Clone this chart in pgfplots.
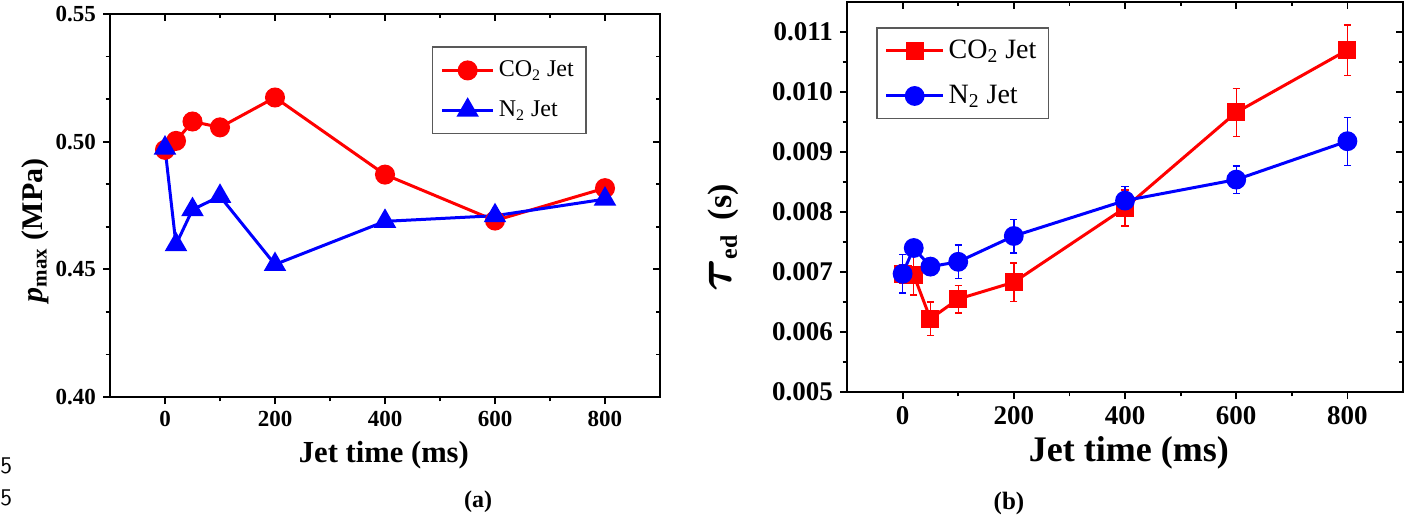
\documentclass[border=0pt]{standalone}
\usepackage{pgfplots}
\pgfplotsset{compat=1.18}
\usepackage{fontspec}
\setmainfont{Liberation Serif}
\usepackage{amsmath}
\usepackage{bm}
\definecolor{cred}{RGB}{255,0,0}
\definecolor{cblue}{RGB}{0,0,255}
\pgfplotsset{
  common/.style={
    scale only axis,
    anchor=south west,
    xmin=-100, xmax=900,
    xtick={0,200,400,600,800},
    minor x tick num=1,
    tick align=outside,
    xtick pos=left, ytick pos=left,
    axis line style={line width=1pt},
    every tick/.style={black, line width=0.9pt},
    major tick length=3.5pt,
    minor tick length=2.2pt,
    /pgf/number format/assume math mode=true,
    legend cell align=left,
    clip=false,
  },
  overlay/.style={
    scale only axis,
    anchor=south west,
    xmin=-100, xmax=900,
    xtick={0,200,400,600,800},
    minor x tick num=1,
    tick align=inside,
    xtick pos=right, ytick pos=right,
    axis line style={draw=none},
    every tick/.style={black, line width=0.9pt},
    major tick length=3.5pt,
    minor tick length=2.2pt,
    xticklabels={}, yticklabels={},
  },
}
\begin{document}
\begin{tikzpicture}
\path[use as bounding box] (0,0) rectangle (708pt,-259.5pt);
% ---------- (a)
\begin{axis}[common,
  at={(55pt,-198.5pt)}, width=275pt, height=191.5pt,
  ymin=0.40, ymax=0.55,
  ytick={0.40,0.45,0.50,0.55},
  minor y tick num=2,
  yticklabel style={font=\fontsize{11.5}{12}\selectfont\bfseries,
    /pgf/number format/.cd, fixed, fixed zerofill, precision=2},
  xticklabel style={font=\fontsize{11.5}{12}\selectfont\bfseries},
  xlabel={Jet time (ms)},
  xlabel style={font=\fontsize{15.3}{17}\selectfont\bfseries,
    at={(axis description cs:0.498,-0.170)}, anchor=base},
  ylabel={{\itshape p}\textsubscript{max} (MPa)},
  ylabel style={font=\fontsize{15}{17}\selectfont\bfseries,
    at={(axis description cs:-0.136,0.435)}, anchor=center},
  legend style={at={(axis description cs:0.585,0.916)}, anchor=north west,
    draw=black!65, line width=0.8pt, fill=white,
    font=\fontsize{12}{14}\selectfont, row sep=6.5pt,
    inner xsep=4pt, inner ysep=5pt},
  legend image code/.code={
    \draw[#1, mark repeat=2, mark phase=2] plot coordinates {(0cm,0cm) (0.45cm,0cm) (0.9cm,0cm)};},
]
\addplot[cred, line width=1.5pt, mark=*, mark size=4.25pt, mark options={solid, fill=cred, draw=cred}]
  coordinates {(0,0.4968) (20,0.5003) (50,0.5079) (100,0.5056) (200,0.5173) (400,0.4871) (600,0.4691) (800,0.4818)};
\addlegendentry{CO\textsubscript{2} Jet}
\addplot[cblue, line width=1.5pt, mark=triangle*, mark size=5pt, mark options={solid, fill=cblue, draw=cblue}]
  coordinates {(0,0.4975) (20,0.4597) (50,0.4734) (100,0.4786) (200,0.4519) (400,0.4688) (600,0.4710) (800,0.4775)};
\addlegendentry{N\textsubscript{2} Jet}
\end{axis}
\begin{axis}[overlay,
  at={(55pt,-198.5pt)}, width=275pt, height=191.5pt,
  ymin=0.40, ymax=0.55, ytick={0.40,0.45,0.50,0.55}, minor y tick num=2]
\end{axis}
% ---------- (b)
\begin{axis}[common,
  at={(423.5pt,-196pt)}, width=278pt, height=195pt,
  ymin=0.005, ymax=0.0115,
  ytick={0.005,0.006,0.007,0.008,0.009,0.010,0.011},
  minor y tick num=1,
  scaled y ticks=false,
  yticklabel style={font=\fontsize{13.5}{14}\selectfont\bfseries,
    /pgf/number format/.cd, fixed, fixed zerofill, precision=3},
  xticklabel style={font=\fontsize{13.5}{14}\selectfont\bfseries},
  xlabel={Jet time (ms)},
  xlabel style={font=\fontsize{18}{20}\selectfont\bfseries,
    at={(axis description cs:0.507,-0.179)}, anchor=base},
  ylabel={{\fontsize{31}{31}\selectfont$\bm{\tau}$}\textsubscript{ed}\, (s)},
  ylabel style={font=\fontsize{17}{19}\selectfont\bfseries,
    at={(axis description cs:-0.222,0.395)}, anchor=center},
  legend style={at={(axis description cs:0.052,0.936)}, anchor=north west,
    draw=black!65, line width=0.8pt, fill=white,
    font=\fontsize{14}{16}\selectfont, row sep=8pt,
    inner xsep=4pt, inner ysep=4pt},
  legend image code/.code={
    \draw[#1, mark repeat=2, mark phase=2] plot coordinates {(0cm,0cm) (0.5cm,0cm) (1.0cm,0cm)};},
  error bars/error bar style={line width=0.7pt},
  error bars/error mark options={rotate=90, mark size=1.8pt, line width=0.7pt},
]
\addplot[cred, line width=1.5pt, mark=square*, mark size=3.75pt, mark options={solid, fill=cred, draw=cred},
  error bars/.cd, y dir=both, y explicit]
  coordinates {(0,0.00697) +- (0,0.00015) (20,0.00695) +- (0,0.00033) (50,0.00622) +- (0,0.00028) (100,0.00655) +- (0,0.00023)
   (200,0.00683) +- (0,0.00032) (400,0.00807) +- (0,0.00030) (600,0.00966) +- (0,0.00040) (800,0.01070) +- (0,0.00042)};
\addlegendentry{CO\textsubscript{2} Jet}
\addplot[cblue, line width=1.5pt, mark=*, mark size=4.2pt, mark options={solid, fill=cblue, draw=cblue},
  error bars/.cd, y dir=both, y explicit]
  coordinates {(0,0.00697) +- (0,0.00032) (20,0.00740) +- (0,0.00010) (50,0.00709) +- (0,0.00010) (100,0.00717) +- (0,0.00028)
   (200,0.00760) +- (0,0.00028) (400,0.00819) +- (0,0.00024) (600,0.00854) +- (0,0.00023) (800,0.00918) +- (0,0.00040)};
\addlegendentry{N\textsubscript{2} Jet}
\end{axis}
\begin{axis}[overlay,
  at={(423.5pt,-196pt)}, width=278pt, height=195pt,
  ymin=0.005, ymax=0.0115, ytick={0.005,0.006,0.007,0.008,0.009,0.010,0.011}, minor y tick num=1, scaled y ticks=false]
\end{axis}
% captions
\node[font=\fontsize{12}{14}\selectfont\bfseries] at (239pt,-251pt) {(a)};
\node[font=\fontsize{12.5}{14}\selectfont\bfseries] at (504.5pt,-251.5pt) {(b)};
\node[font=\sffamily\fontsize{12}{14}\selectfont, anchor=west, inner sep=0pt] at (0pt,-233pt) {5};
\node[font=\sffamily\fontsize{12}{14}\selectfont, anchor=west, inner sep=0pt] at (0pt,-249pt) {5};
\end{tikzpicture}
\end{document}
